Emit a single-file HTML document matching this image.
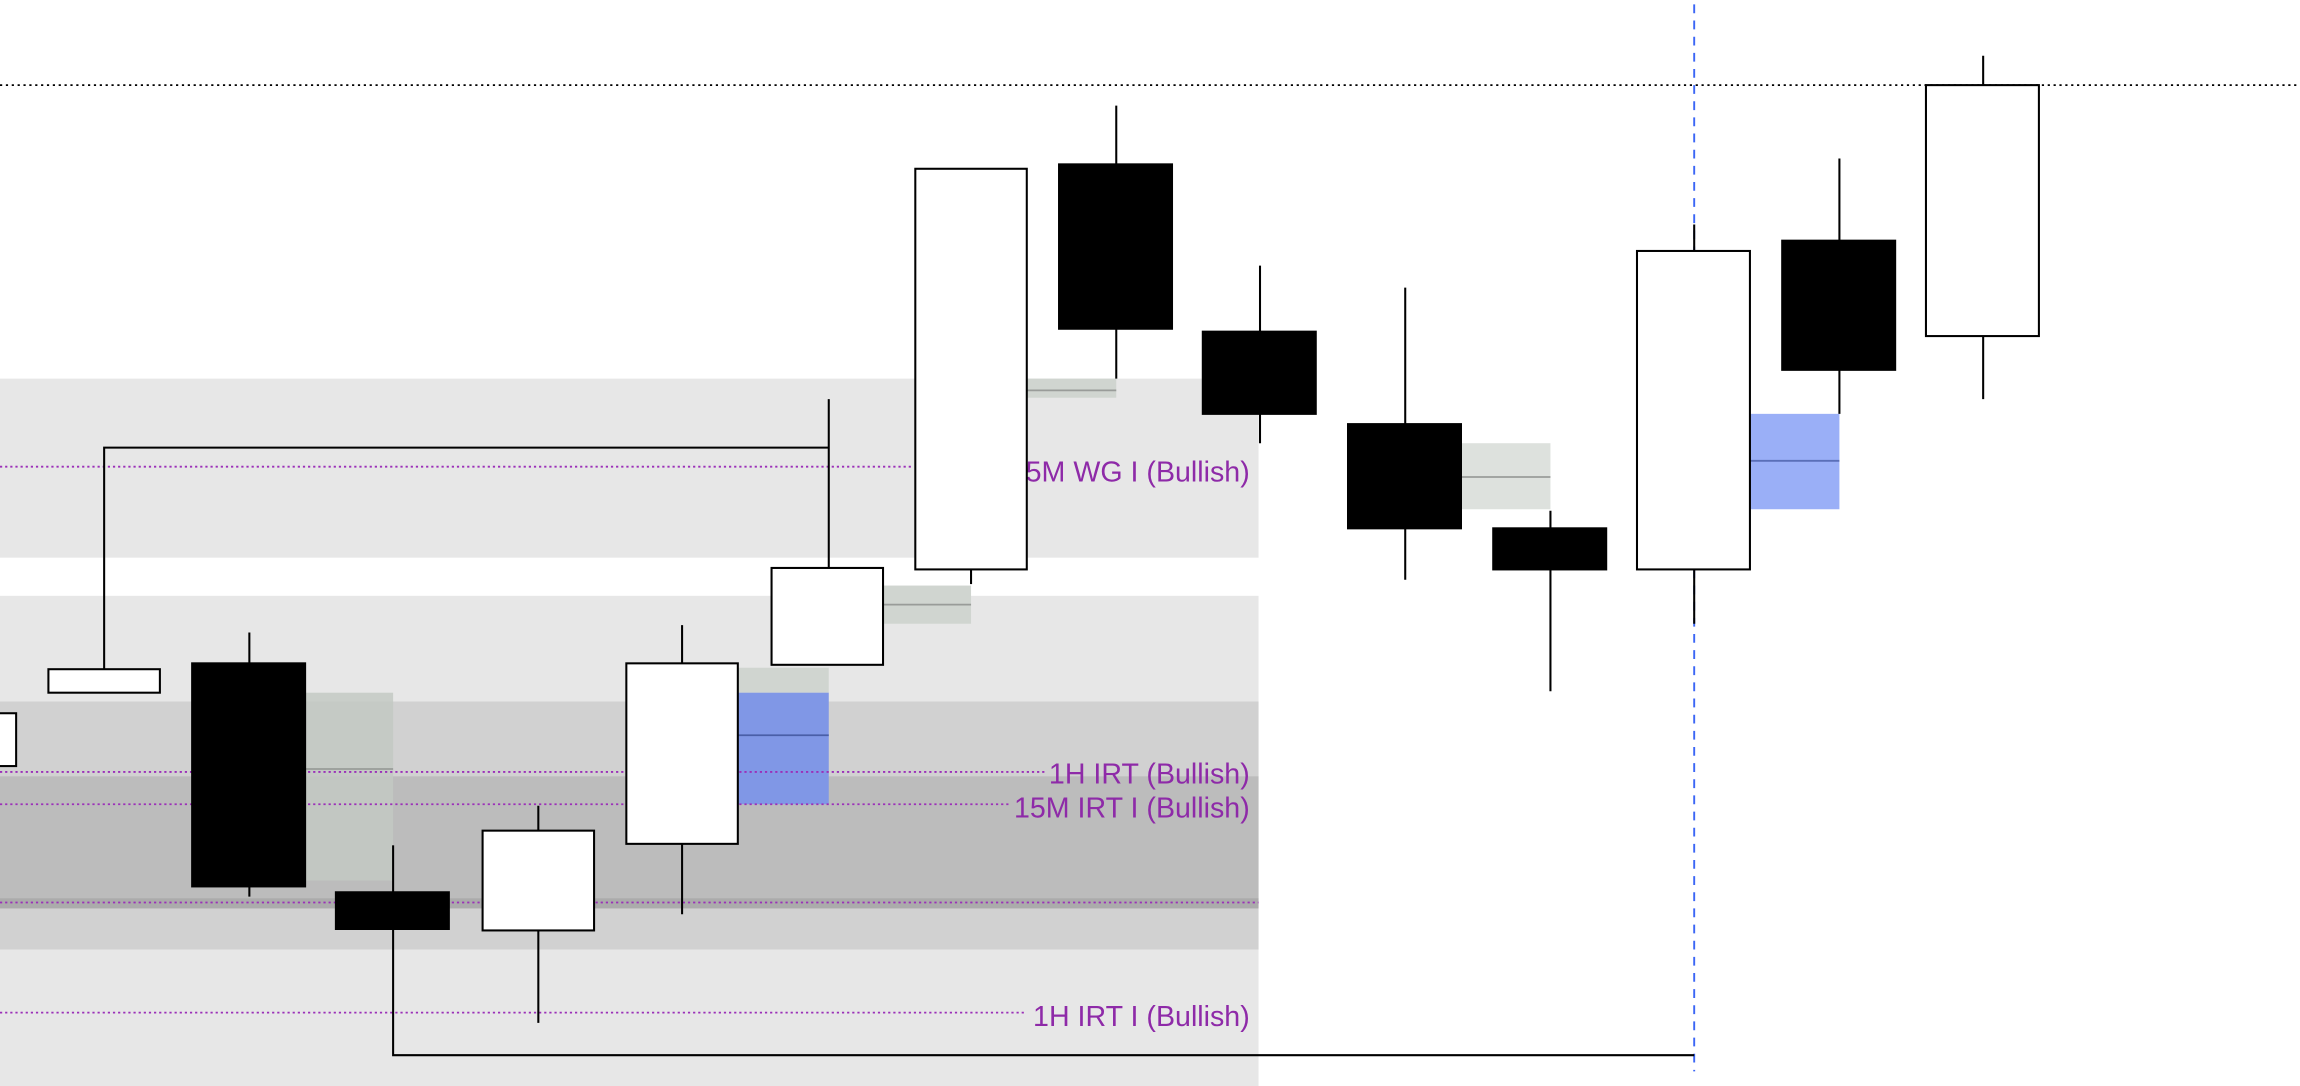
<!DOCTYPE html>
<html><head><meta charset="utf-8"><style>
html,body{margin:0;padding:0;background:#fff;}
svg{display:block;}
text{font-family:"Liberation Sans",sans-serif;font-size:19.5px;fill:#8e2aa8;}
</style></head><body>
<svg width="2300" height="1086" viewBox="0 0 1568 740" preserveAspectRatio="none" xmlns="http://www.w3.org/2000/svg">
<rect width="1568" height="740" fill="#fff"/>
<rect x="0" y="258" width="858" height="122" fill="#e7e7e7"/>
<rect x="0" y="406" width="858" height="334" fill="#e7e7e7"/>
<rect x="0" y="478" width="858" height="169" fill="#d1d1d1"/>
<rect x="0" y="529" width="858" height="83" fill="#bcbcbc"/>
<rect x="0" y="612" width="858" height="7" fill="#ababab"/>
<rect x="208" y="472" width="60" height="128" fill="#c3c9c3" opacity="0.85"/>
<line x1="208" y1="524" x2="268" y2="524" stroke="#999c99" stroke-width="1.2"/>
<rect x="503" y="455" width="62" height="17" fill="#d0d5d0"/>
<rect x="503" y="472" width="62" height="76" fill="#8097e6"/>
<line x1="503" y1="501" x2="565" y2="501" stroke="#4a5fa8" stroke-width="1.2"/>
<rect x="602" y="399" width="60" height="26" fill="#d0d5d0"/>
<line x1="602" y1="412" x2="662" y2="412" stroke="#999c99" stroke-width="1.2"/>
<rect x="700" y="258" width="61" height="13" fill="#d0d5d0"/>
<line x1="700" y1="266" x2="761" y2="266" stroke="#999c99" stroke-width="1.2"/>
<rect x="996" y="302" width="61" height="45" fill="#dde1dd"/>
<line x1="996" y1="325" x2="1057" y2="325" stroke="#999c99" stroke-width="1.2"/>
<rect x="1193" y="282" width="61" height="65" fill="#9aaff7"/>
<line x1="1193" y1="314" x2="1254" y2="314" stroke="#5a6fb8" stroke-width="1.2"/>
<g stroke="#9b30b8" stroke-width="1.2" stroke-dasharray="1.5,2">
<line x1="0" y1="318" x2="622" y2="318"/>
<line x1="0" y1="526" x2="712" y2="526"/>
<line x1="0" y1="548" x2="688" y2="548"/>
<line x1="0" y1="615" x2="858" y2="615"/>
<line x1="0" y1="690" x2="700" y2="690"/>
</g>
<text x="852" y="328" text-anchor="end">5M WG I (Bullish)</text>
<text x="852" y="534" text-anchor="end">1H IRT (Bullish)</text>
<text x="852" y="557" text-anchor="end">15M IRT I (Bullish)</text>
<text x="852" y="699" text-anchor="end">1H IRT I (Bullish)</text>
<line x1="0" y1="58" x2="1568" y2="58" stroke="#000" stroke-width="1.2" stroke-dasharray="1.5,2.5"/>
<line x1="1155" y1="3" x2="1155" y2="730" stroke="#3b66f5" stroke-width="1.3" stroke-dasharray="6,5"/>
<g stroke="#000" stroke-width="1.4" fill="none">
<polyline points="71,456 71,305 565,305"/>
<polyline points="268,633 268,719 1155,719"/>
</g>
<g stroke="#000" stroke-width="1.4">
<line x1="170" y1="431" x2="170" y2="611"/>
<line x1="268" y1="576" x2="268" y2="608"/>
<line x1="367" y1="549" x2="367" y2="697"/>
<line x1="465" y1="426" x2="465" y2="623"/>
<line x1="565" y1="272" x2="565" y2="387"/>
<line x1="662" y1="388" x2="662" y2="398"/>
<line x1="761" y1="72" x2="761" y2="258"/>
<line x1="859" y1="181" x2="859" y2="302"/>
<line x1="958" y1="196" x2="958" y2="395"/>
<line x1="1057" y1="348" x2="1057" y2="471"/>
<line x1="1155" y1="153" x2="1155" y2="425"/>
<line x1="1254" y1="108" x2="1254" y2="282"/>
<line x1="1352" y1="38" x2="1352" y2="272"/>
</g>
<g stroke="#000" stroke-width="1.4">
<rect x="-2" y="486" width="13" height="36" fill="#fff"/>
<rect x="33" y="456" width="76" height="16" fill="#fff"/>
<rect x="131" y="452" width="77" height="152" fill="#000"/>
<rect x="229" y="608" width="77" height="25" fill="#000"/>
<rect x="329" y="566" width="76" height="68" fill="#fff"/>
<rect x="427" y="452" width="76" height="123" fill="#fff"/>
<rect x="526" y="387" width="76" height="66" fill="#fff"/>
<rect x="624" y="115" width="76" height="273" fill="#fff"/>
<rect x="722" y="112" width="77" height="112" fill="#000"/>
<rect x="820" y="226" width="77" height="56" fill="#000"/>
<rect x="919" y="289" width="77" height="71" fill="#000"/>
<rect x="1018" y="360" width="77" height="28" fill="#000"/>
<rect x="1116" y="171" width="77" height="217" fill="#fff"/>
<rect x="1215" y="164" width="77" height="88" fill="#000"/>
<rect x="1313" y="58" width="77" height="171" fill="#fff"/>
</g>
</svg>
</body></html>
